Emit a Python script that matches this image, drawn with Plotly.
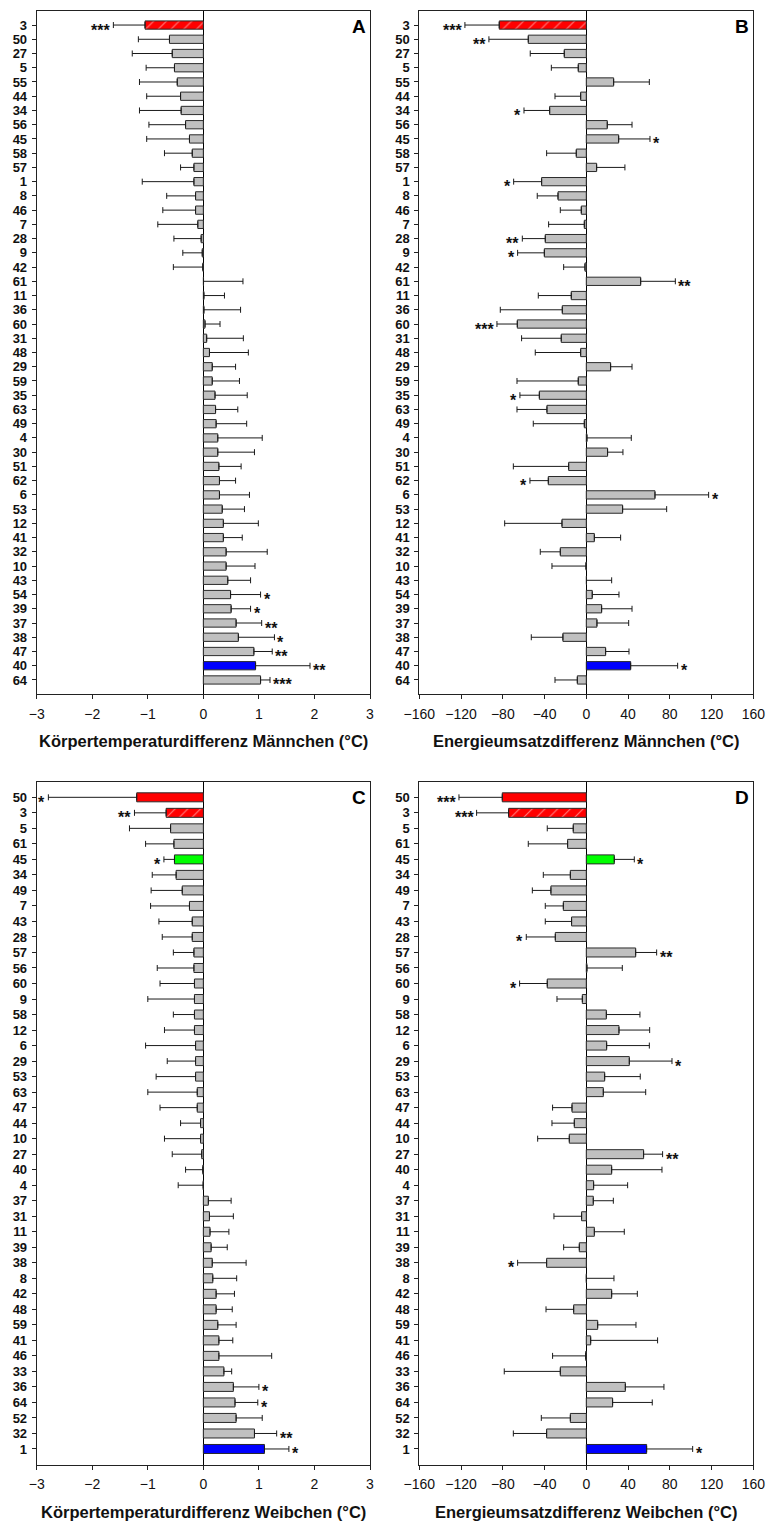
import plotly.graph_objects as go

# ---------------- data ----------------
labels_A = ["3","50","27","5","55","44","34","56","45","58","57","1","8","46","7","28","9","42","61","11","36","60","31","48","29","59","35","63","49","4","30","51","62","6","53","12","41","32","10","43","54","39","37","38","47","40","64"]
temp_m = [-1.05,-0.61,-0.56,-0.52,-0.47,-0.41,-0.40,-0.32,-0.25,-0.20,-0.17,-0.17,-0.14,-0.14,-0.10,-0.04,-0.02,-0.01,0.003,0.01,0.01,0.03,0.06,0.11,0.16,0.16,0.21,0.22,0.23,0.26,0.26,0.28,0.29,0.29,0.34,0.36,0.36,0.41,0.41,0.44,0.49,0.50,0.59,0.63,0.91,0.94,1.03]
temp_m_err = [0.57,0.56,0.72,0.51,0.68,0.61,0.75,0.66,0.77,0.50,0.24,0.93,0.52,0.59,0.72,0.49,0.35,0.53,0.71,0.37,0.66,0.27,0.66,0.70,0.42,0.49,0.58,0.40,0.55,0.80,0.66,0.40,0.29,0.54,0.40,0.63,0.34,0.74,0.52,0.41,0.54,0.35,0.46,0.65,0.33,0.98,0.17]
temp_m_sig = ["***","","","","","","","","","","","","","","","","","","","","","","","","","","","","","","","","","","","","","","","","*","*","**","*","**","**","***"]

energy_m = [-83.4,-55.6,-21.1,-7.7,26.2,-5.4,-35.1,20.1,31.0,-9.6,9.9,-42.8,-27.1,-4.8,-1.9,-39.3,-40.2,-1.3,52.1,-14.4,-23.0,-66.1,-24.0,-5.4,23.3,-7.7,-45.0,-37.7,-1.9,0.6,20.4,-16.9,-36.4,65.8,34.8,-23.3,7.7,-24.9,-0.3,0.2,5.7,14.7,10.2,-22.4,18.5,42.5,-8.6]
energy_m_err = [32.9,37.7,32.6,25.8,34.2,24.6,24.6,23.7,30.0,28.4,27.1,26.8,19.9,20.1,34.2,22.0,25.6,20.4,33.2,31.6,59.4,19.5,38.0,43.5,20.5,58.7,18.6,28.7,48.9,42.5,14.7,53.0,17.6,51.4,42.2,54.9,25.2,19.2,32.6,24.1,25.6,29.1,30.4,30.3,22.4,45.0,21.4]
energy_m_sig = ["***","**","","","","","*","","*","","","*","","","","**","*","","**","","","***","","","","","*","","","","","","*","*","","","","","","","","","","","","*",""]

labels_C = ["50","3","5","61","45","34","49","7","43","28","57","56","60","9","58","12","6","29","53","63","47","44","10","27","40","4","37","31","11","39","38","8","42","48","59","41","46","33","36","64","52","32","1"]
temp_f = [-1.20,-0.67,-0.59,-0.53,-0.52,-0.49,-0.38,-0.25,-0.20,-0.20,-0.17,-0.17,-0.16,-0.16,-0.16,-0.16,-0.14,-0.14,-0.14,-0.11,-0.11,-0.05,-0.05,-0.03,-0.01,-0.003,0.09,0.11,0.12,0.14,0.16,0.17,0.23,0.23,0.26,0.28,0.28,0.37,0.54,0.57,0.59,0.92,1.10]
temp_f_err = [1.59,0.57,0.74,0.51,0.19,0.43,0.56,0.70,0.60,0.54,0.37,0.66,0.62,0.84,0.38,0.54,0.90,0.51,0.71,0.89,0.67,0.36,0.65,0.53,0.31,0.45,0.41,0.43,0.34,0.29,0.61,0.43,0.33,0.29,0.33,0.25,0.95,0.14,0.46,0.41,0.47,0.40,0.44]
temp_f_sig = ["*","**","","","*","","","","","","","","","","","","","","","","","","","","","","","","","","","","","","","","","","*","*","","**","*"]

energy_f = [-80.5,-74.4,-12.5,-17.9,26.8,-15.3,-33.9,-22.0,-14.1,-29.7,47.3,0.6,-37.4,-3.8,19.2,31.3,19.5,41.2,17.6,16.3,-13.7,-11.5,-16.3,54.9,24.3,7.0,6.7,-4.5,7.7,-6.7,-38.0,0.1,24.3,-12.1,10.9,4.2,-0.6,-24.9,37.4,25.2,-15.3,-38.0,57.8]
energy_f_err = [41.5,30.7,24.9,37.7,19.2,25.9,17.8,17.3,25.2,27.8,20.1,33.9,26.5,24.3,32.2,29.4,40.9,40.9,34.1,40.6,18.6,21.4,30.3,18.2,48.2,32.6,19.2,26.5,28.7,15.0,27.8,26.4,24.6,26.5,36.7,64.1,31.7,53.7,37.0,38.0,27.8,31.9,44.1]
energy_f_sig = ["***","***","","","*","","","","","*","**","","*","","","","","*","","","","","","**","","","","","","","*","","","","","","","","","","","","*"]

# highlighted strains
red_hatched = "3"
red_solid_female = "50"
green_female = "45"
blue_male = "40"
blue_female = "1"

titles = ["Körpertemperaturdifferenz Männchen (°C)",
          "Energieumsatzdifferenz Männchen (°C)",
          "Körpertemperaturdifferenz Weibchen (°C)",
          "Energieumsatzdifferenz Weibchen (°C)"]
letters = ["A", "B", "C", "D"]

# ---------------- styling ----------------
W, H = 769, 1522
FONT = "Liberation Sans, Arial, sans-serif"
GRAY, RED, BLUE, GREEN = "#c0c0c0", "#ff0000", "#0000ff", "#00ff00"

def px_x(p):
    return p / W

def px_y(p):
    return 1 - p / H

xdom_left = [px_x(36.7), px_x(370.0)]
xdom_right = [px_x(419.3), px_x(753.3)]
ydom_top = [px_y(694.2), px_y(10.8)]
ydom_bot = [px_y(1464.5), px_y(781.8)]

panels = [
    dict(labels=labels_A, vals=temp_m, errs=temp_m_err, sig=temp_m_sig, female=False,
         xd=xdom_left, yd=ydom_top, rng=[-3, 3], dtick=1, title_y=741),
    dict(labels=labels_A, vals=energy_m, errs=energy_m_err, sig=energy_m_sig, female=False,
         xd=xdom_right, yd=ydom_top, rng=[-160, 160], dtick=40, title_y=741),
    dict(labels=labels_C, vals=temp_f, errs=temp_f_err, sig=temp_f_sig, female=True,
         xd=xdom_left, yd=ydom_bot, rng=[-3, 3], dtick=1, title_y=1512),
    dict(labels=labels_C, vals=energy_f, errs=energy_f_err, sig=energy_f_sig, female=True,
         xd=xdom_right, yd=ydom_bot, rng=[-160, 160], dtick=40, title_y=1512),
]

fig = go.Figure()
annotations = []
layout = {}

for i, p in enumerate(panels):
    k = "" if i == 0 else str(i + 1)
    xa, ya = "x" + k, "y" + k
    colors, shapes = [], []
    for lab in p["labels"]:
        if lab == red_hatched:
            colors.append(RED); shapes.append("/")
        elif p["female"] and lab == red_solid_female:
            colors.append(RED); shapes.append("")
        elif p["female"] and lab == green_female:
            colors.append(GREEN); shapes.append("")
        elif (not p["female"] and lab == blue_male) or (p["female"] and lab == blue_female):
            colors.append(BLUE); shapes.append("")
        else:
            colors.append(GRAY); shapes.append("")
    plus = [e if v >= 0 else 0 for v, e in zip(p["vals"], p["errs"])]
    minus = [e if v < 0 else 0 for v, e in zip(p["vals"], p["errs"])]
    fig.add_trace(go.Bar(
        x=p["vals"], y=p["labels"], orientation="h", xaxis=xa, yaxis=ya,
        marker=dict(color=colors, line=dict(color="#2a2a2a", width=1),
                    pattern=dict(shape=shapes, fgcolor="#000000", size=9, solidity=0.12)),
        error_x=dict(type="data", symmetric=False, array=plus, arrayminus=minus,
                     color="#1a1a1a", thickness=1, width=3),
        showlegend=False, hoverinfo="skip"))
    n = len(p["labels"])
    layout["xaxis" + k] = dict(
        domain=p["xd"], anchor=ya, range=p["rng"], dtick=p["dtick"], tick0=0,
        automargin=False,
        showgrid=False, zeroline=True, zerolinecolor="#000000", zerolinewidth=1,
        showline=True, mirror=True, linecolor="#222222", linewidth=1,
        ticks="outside", ticklen=4, tickcolor="#222222",
        tickfont=dict(family=FONT, size=14, color="#111111"), ticklabelstandoff=3)
    layout["yaxis" + k] = dict(
        domain=p["yd"], anchor=xa, type="category", automargin=False,
        categoryorder="array", categoryarray=p["labels"], range=[n, -1],
        tickmode="array", tickvals=p["labels"], ticktext=p["labels"],
        showgrid=False, showline=True, mirror=True, linecolor="#222222", linewidth=1,
        ticks="outside", ticklen=4, tickcolor="#222222",
        tickfont=dict(family=FONT, size=13, color="#111111", weight="bold"),
        ticklabelstandoff=2)
    # significance stars (y given as category index)
    for idx, (v, e, s) in enumerate(zip(p["vals"], p["errs"], p["sig"])):
        if not s:
            continue
        neg = v < 0
        annotations.append(dict(
            x=v - e if neg else v + e, y=idx, xref=xa, yref=ya, text=s, showarrow=False,
            xanchor="right" if neg else "left", yanchor="middle",
            xshift=-1 if neg else 1, yshift=-5,
            font=dict(family=FONT, size=16, color="#111111", weight="bold")))
    # panel letter
    annotations.append(dict(
        x=p["xd"][1], y=p["yd"][1], xref="paper", yref="paper", text=letters[i],
        showarrow=False, xanchor="right", yanchor="top", xshift=-2, yshift=-3,
        font=dict(family=FONT, size=19, color="#000000", weight="bold")))
    # axis title
    annotations.append(dict(
        x=(p["xd"][0] + p["xd"][1]) / 2, y=px_y(p["title_y"]), xref="paper", yref="paper",
        text=titles[i], showarrow=False, xanchor="center", yanchor="middle",
        font=dict(family=FONT, size=16.5, color="#111111", weight="bold")))

fig.update_layout(
    width=W, height=H, margin=dict(l=0, r=0, t=0, b=0, autoexpand=False),
    paper_bgcolor="white", plot_bgcolor="white",
    bargap=0.42, annotations=annotations, **layout)

fig.write_html("out.html")
